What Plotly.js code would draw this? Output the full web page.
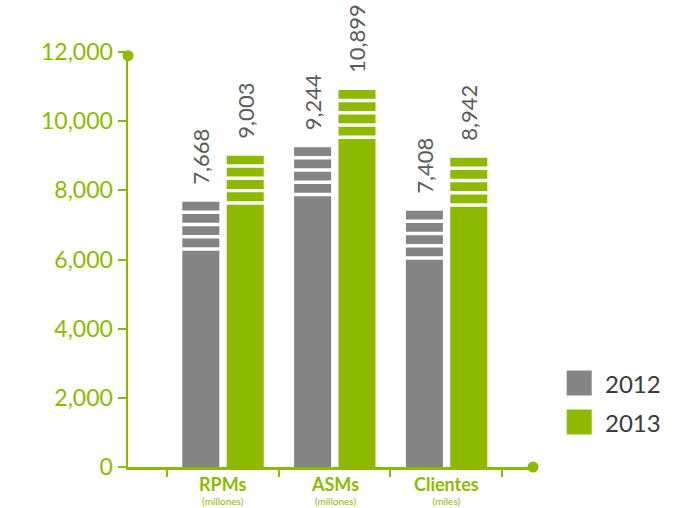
<!DOCTYPE html>
<html>
<head>
<meta charset="utf-8">
<script src="https://cdn.plot.ly/plotly-3.0.1.min.js"></script>
<style>
html,body{margin:0;padding:0;background:#fff;}
#chart{width:681px;height:508px;}
</style>
</head>
<body>
<div id="chart"></div>
<script>
// ---- data ----
var categories = ['RPMs', 'ASMs', 'Clientes'];
var units = ['(millones)', '(millones)', '(miles)'];
var years = ['2012', '2013'];
var values2012 = [7668, 9244, 7408];
var values2013 = [9003, 10899, 8942];
var yTickVals = [0, 2000, 4000, 6000, 8000, 10000, 12000];

// ---- style ----
var GREEN = '#8dba00';
var GRAY = '#848484';
var FONT = 'Lato, "Open Sans", sans-serif';
var BAR_W = 0.331;
var OFFSETS = [-0.362, 0.035];
var COLORS = [GRAY, GREEN];
var series = [values2012, values2013];

var traces = [];
series.forEach(function (vals, i) {
  traces.push({
    type: 'bar',
    name: years[i],
    x: categories,
    y: vals,
    width: BAR_W,
    offset: OFFSETS[i],
    marker: {color: COLORS[i], line: {width: 0}},
    text: vals.map(function (v) { return '\u00a0\u00a0\u2009' + v.toLocaleString('en-US'); }),
    texttemplate: '%{text}',
    textposition: 'outside',
    textangle: -90,
    constraintext: 'none',
    textfont: {family: FONT, size: 22, color: '#5a5a5a'},
    cliponaxis: false,
    hoverinfo: 'x+y',
    showlegend: false
  });
});

// decorative white stripes near the top of every bar
var GAP = 101, FIRST = 251, PERIOD = 355;
series.forEach(function (vals, i) {
  for (var k = 0; k < 4; k++) {
    traces.push({
      type: 'bar',
      x: categories,
      y: vals.map(function () { return GAP; }),
      base: vals.map(function (v) { return v - FIRST - PERIOD * k - GAP; }),
      width: BAR_W + 0.02,
      offset: OFFSETS[i] - 0.01,
      marker: {color: '#ffffff', line: {width: 0}},
      hoverinfo: 'skip',
      showlegend: false
    });
  }
});

var annotations = [];
categories.forEach(function (c, i) {
  annotations.push({
    xref: 'x', yref: 'paper', x: c, y: 0, yanchor: 'bottom', xanchor: 'center',
    yshift: -40.5, showarrow: false, borderpad: 0,
    text: '<span style="font-size:18px"><b>' + c + '</b></span><br>' +
          '<span style="font-size:10px">' + units[i] + '</span>',
    font: {family: FONT, size: 10.5, color: GREEN}
  });
});

// legend drawn manually
var shapes = [];
years.forEach(function (yr, i) {
  var top = 371 + 39 * i;
  shapes.push({
    type: 'rect', xref: 'paper', yref: 'paper',
    xsizemode: 'pixel', ysizemode: 'pixel',
    xanchor: 1, yanchor: 0,
    x0: 566.7 - 533, x1: 591.7 - 533,
    y0: 467.5 - top, y1: 467.5 - top - 25,
    fillcolor: COLORS[i], line: {width: 0}
  });
  annotations.push({
    xref: 'paper', yref: 'paper', x: 1, y: 0,
    xshift: 603 - 533, yshift: 467.5 - top - 12.5,
    xanchor: 'left', yanchor: 'middle', showarrow: false,
    text: yr, font: {family: FONT, size: 24, color: '#3a3a3a'}
  });
});

// axis end dots
shapes.push({
  type: 'circle', xref: 'paper', yref: 'paper',
  xsizemode: 'pixel', ysizemode: 'pixel', xanchor: 0, yanchor: 0.991,
  x0: -5.5, x1: 5.5, y0: -5.5, y1: 5.5,
  fillcolor: GREEN, line: {width: 0}
});
shapes.push({
  type: 'circle', xref: 'paper', yref: 'paper',
  xsizemode: 'pixel', ysizemode: 'pixel', xanchor: 1, yanchor: 0,
  x0: -5.5, x1: 5.5, y0: -5.5, y1: 5.5,
  fillcolor: GREEN, line: {width: 0}
});

var layout = {
  width: 681, height: 508,
  margin: {l: 128, r: 148, t: 51.5, b: 40.5},
  paper_bgcolor: '#ffffff', plot_bgcolor: '#ffffff',
  barmode: 'overlay',
  showlegend: false,
  xaxis: {
    type: 'category',
    range: [-0.848, 2.775],
    showgrid: false, zeroline: false,
    showline: true, linecolor: GREEN, linewidth: 2.5,
    ticks: 'outside', tickson: 'boundaries', ticklen: 7, tickwidth: 2, tickcolor: GREEN,
    showticklabels: false,
    fixedrange: true
  },
  yaxis: {
    range: [0, 12000],
    tickvals: yTickVals,
    ticktext: yTickVals.map(function (v) { return v.toLocaleString('en-US'); }),
    showgrid: false, zeroline: false,
    showline: true, linecolor: GREEN, linewidth: 2.5,
    ticks: 'outside', ticklen: 8, tickwidth: 2, tickcolor: GREEN,
    tickfont: {family: FONT, size: 23, color: GREEN},
    fixedrange: true
  },
  annotations: annotations,
  shapes: shapes
};

Plotly.newPlot('chart', traces, layout, {displayModeBar: false, staticPlot: true});
</script>
</body>
</html>
